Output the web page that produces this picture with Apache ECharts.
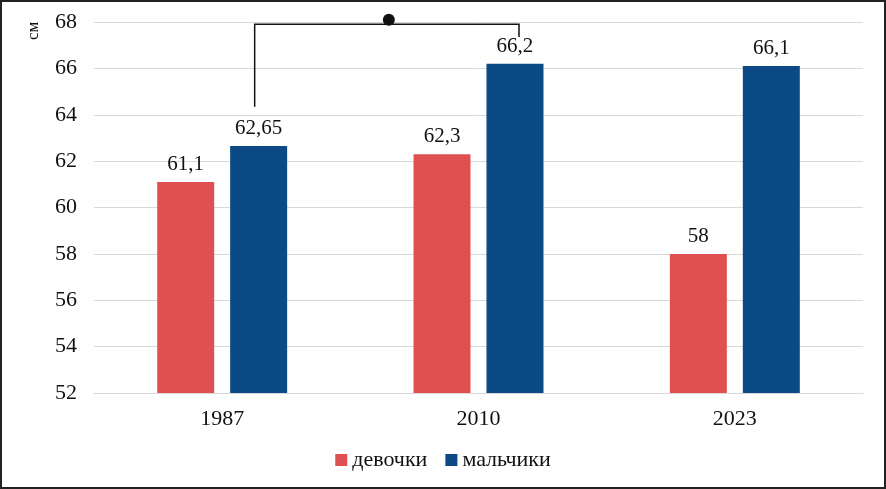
<!DOCTYPE html>
<html><head><meta charset="utf-8">
<script src="https://cdn.jsdelivr.net/npm/echarts@6/dist/echarts.min.js"></script>
<style>
html,body{margin:0;padding:0;background:#fff;}
#wrap{position:absolute;left:0;top:0;width:882px;height:485px;border:2px solid #222;}
#c{width:882px;height:485px;}
</style></head>
<body><div id="wrap"><div id="c"></div></div>
<script>
const categories = ['1987', '2010', '2023'];
const girls = [61.1, 62.3, 58];
const boys = [62.65, 66.2, 66.1];
const seriesNames = ['девочки', 'мальчики'];
const yTicks = [52, 54, 56, 58, 60, 62, 64, 66, 68];
const unitLabel = 'см';
// bracket (significance) between 1987 boys and 2010 boys
const bracketLeft = [64.35, 67.9];
const bracketRight = [67.35, 67.9];
const dotValue = 68.1;

const FONT = '"Liberation Serif", "Times New Roman", serif';
const fmt = v => String(v).replace('.', ',');
const chart = echarts.init(document.getElementById('c'));
const lblStyle = {show: true, position: 'top', distance: 7, color: '#111', fontFamily: FONT, fontSize: 21, formatter: p => fmt(p.value)};
chart.setOption({
  animation: false,
  grid: {left: 92, right: 21, top: 20, bottom: 94},
  legend: {bottom: 11, left: 'center', itemWidth: 12, itemHeight: 12, itemGap: 18, icon: 'rect',
    textStyle: {fontFamily: FONT, fontSize: 22, color: '#111'}, data: seriesNames},
  xAxis: {type: 'category', data: categories,
    axisLine: {lineStyle: {color: '#d9d9d9'}}, axisTick: {show: false},
    axisLabel: {fontFamily: FONT, fontSize: 22, color: '#111', margin: 15}},
  yAxis: {type: 'value', min: yTicks[0], max: yTicks[yTicks.length - 1], interval: 2,
    axisLine: {show: false}, axisTick: {show: false},
    splitLine: {lineStyle: {color: '#d9d9d9'}},
    axisLabel: {fontFamily: FONT, fontSize: 22, color: '#111', margin: 17}},
  series: [
    {name: seriesNames[0], type: 'bar', data: girls, barWidth: 57, barGap: '28%', itemStyle: {color: '#DF5151'}, label: lblStyle},
    {name: seriesNames[1], type: 'bar', data: boys, barWidth: 57, itemStyle: {color: '#0B4A84'}, label: lblStyle}
  ]
});
function drawBracket() {
  const p = (cat, v) => chart.convertToPixel({gridIndex: 0}, [cat, v]);
  const a0 = p(categories[0], bracketLeft[0]), a1 = p(categories[0], bracketLeft[1]);
  const b0 = p(categories[1], bracketRight[0]), b1 = p(categories[1], bracketRight[1]);
  const off = 36.5 - 4; // offset of boys bar centre within category
  const xl = a0[0] + off, xr = b0[0] + off + 8;
  const d = p(categories[0], dotValue);
  chart.setOption({graphic: [
    {type: 'polyline', shape: {points: [[xl, a0[1]], [xl, a1[1]], [xr, b1[1]], [xr, b0[1]]]}, style: {stroke: '#111', lineWidth: 1.5, fill: null}, z: 10},
    {type: 'circle', shape: {cx: (xl + xr) / 2 + 2, cy: d[1], r: 6}, style: {fill: '#111'}, z: 10},
    {type: 'text', x: 32, y: 38, rotation: Math.PI / 2, style: {text: unitLabel, fontFamily: FONT, fontSize: 17, fill: '#111', align: 'left', verticalAlign: 'middle'}}
  ]});
}
drawBracket();
</script></body></html>
